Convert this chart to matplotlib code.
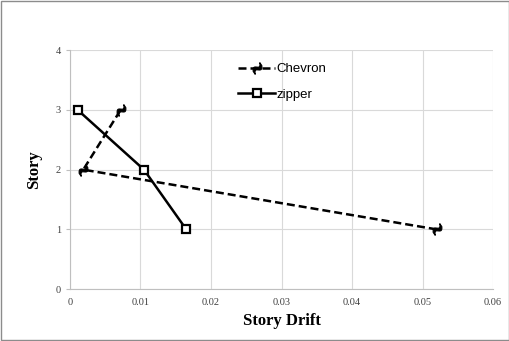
import matplotlib.pyplot as plt
from matplotlib.markers import MarkerStyle
from matplotlib.transforms import Affine2D
from matplotlib.patches import Rectangle

# story drift values
chevron_drift = [0.052, 0.0019, 0.0072]
chevron_story = [1, 2, 3]
zipper_drift = [0.0165, 0.0105, 0.0011]
zipper_story = [1, 2, 3]

fig = plt.figure(figsize=(5.1, 3.41), dpi=100)
ax = fig.add_axes([0.137, 0.152, 0.830, 0.701])

squiggle = MarkerStyle('$\\sim$', transform=Affine2D().scale(0.75, 1.8).rotate_deg(35))
ax.plot(chevron_drift, chevron_story, color='black', lw=1.8, ls=(0, (3.2, 1.6)),
        marker=squiggle, markersize=10, markeredgewidth=0.8, label='Chevron', zorder=3)
ax.plot(zipper_drift, zipper_story, color='black', lw=1.8,
        marker='s', markersize=6, markerfacecolor='white', markeredgewidth=1.6,
        label='zipper', zorder=3)

ax.set_xlim(0, 0.06)
ax.set_ylim(0, 4)
ax.set_xticks([0, 0.01, 0.02, 0.03, 0.04, 0.05, 0.06])
ax.set_xticklabels(['0', '0.01', '0.02', '0.03', '0.04', '0.05', '0.06'])
ax.set_yticks([0, 1, 2, 3, 4])
ax.grid(True, color='#d9d9d9', lw=0.8)
ax.set_axisbelow(True)
for s in ['top', 'right']:
    ax.spines[s].set_visible(False)
for s in ['left', 'bottom']:
    ax.spines[s].set_color('#bfbfbf')
    ax.spines[s].set_linewidth(0.8)
ax.tick_params(axis='both', colors='#bfbfbf', labelcolor='#404040', length=3, width=0.8)
ax.tick_params(axis='x', length=0, pad=6)
for lab in ax.get_xticklabels() + ax.get_yticklabels():
    lab.set_family('Liberation Serif')
    lab.set_fontsize(7.5)

ax.set_xlabel('Story Drift', family='Liberation Serif', fontweight='bold', fontsize=12, labelpad=5)
ax.set_ylabel('Story', family='Liberation Serif', fontweight='bold', fontsize=12, labelpad=10)

leg = ax.legend(loc='upper left', bbox_to_anchor=(0.37, 0.995), frameon=False,
                prop={'family': 'Liberation Sans', 'size': 9.5}, handlelength=2.8,
                handletextpad=0.1, labelspacing=1.0)

fig.patches.append(Rectangle((0.002, 0.002), 0.996, 0.994, transform=fig.transFigure,
                             fill=False, edgecolor='#8c8c8c', lw=1))

fig.savefig('out.png', dpi=100)
